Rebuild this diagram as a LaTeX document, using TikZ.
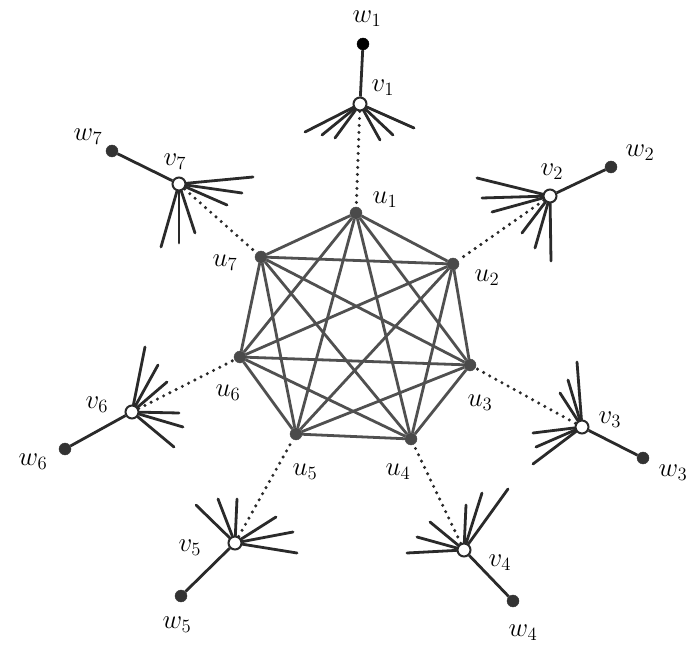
\documentclass[tikz,border=0pt]{standalone}
\definecolor{ucol}{HTML}{4A4A4A}
\definecolor{ecol}{HTML}{505050}
\definecolor{scol}{HTML}{2A2A2A}
\definecolor{wcol}{HTML}{333333}
\newcommand\lbl[1]{\scalebox{1.3}{$#1$}}
\begin{document}
\begin{tikzpicture}[x=1pt,y=-1pt,
  unode/.style={circle,fill=ucol,draw=ucol,inner sep=0pt,minimum size=12pt},
  vnode/.style={circle,fill=white,draw=scol,line width=2pt,inner sep=0pt,minimum size=13pt},
  wnode/.style={circle,fill=wcol,draw=wcol,inner sep=0pt,minimum size=12pt},
  kedge/.style={draw=ecol,line width=2.8pt},
  spoke/.style={draw=scol,line width=2.8pt,line cap=round},
  link/.style={draw=scol,line width=2.8pt},
  dots/.style={draw=scol,line width=3.4pt,line cap=round,dash pattern=on 0pt off 7pt},
  lab/.style={font=\huge,inner sep=0pt}]
\useasboundingbox (0,0) rectangle (689,647);
% u nodes
\node[unode] (u1) at (356,213) {};
\node[unode] (u2) at (453,264) {};
\node[unode] (u3) at (470,365) {};
\node[unode] (u4) at (411,439) {};
\node[unode] (u5) at (296,434) {};
\node[unode] (u6) at (240,357) {};
\node[unode] (u7) at (261,257) {};
% complete graph
\foreach \a/\b in {1/2,1/3,1/4,1/5,1/6,1/7,2/3,2/4,2/5,2/6,2/7,3/4,3/5,3/6,3/7,4/5,4/6,4/7,5/6,5/7,6/7}
  \draw[kedge] (u\a) -- (u\b);
% v and w nodes
\node[vnode] (v1) at (360,104) {};
\node[vnode] (v2) at (550,196) {};
\node[vnode] (v3) at (582,427) {};
\node[vnode] (v4) at (464,550) {};
\node[vnode] (v5) at (235,543) {};
\node[vnode] (v6) at (132,412) {};
\node[vnode] (v7) at (179,184) {};
\node[wnode,fill=black,draw=black] (w1) at (363,44) {};
\node[wnode] (w2) at (611,167) {};
\node[wnode] (w3) at (643,458) {};
\node[wnode] (w4) at (513,601) {};
\node[wnode] (w5) at (181,596) {};
\node[wnode] (w6) at (65,449) {};
\node[wnode] (w7) at (112,151) {};
\foreach \i in {1,...,7} {
  \draw[link] (v\i) -- (w\i);
  \draw[dots] (v\i) -- (u\i);
}
% spokes
\foreach \i/\pts in {
  1/{305/132,322/135,335/138,380/140,393/135,414/128},
  2/{477/178,482/198,492/212,522/233,535/248,551/261},
  3/{577/362,568/380,560/393,533/433,536/447,533/464},
  4/{407/553,417/537,430/522,466/505,482/493,508/489},
  5/{196/505,218/499,237/499,276/517,293/532,297/553},
  6/{145/347,158/365,167/382,179/413,183/427,174/447},
  7/{253/177,242/193,227/205,195/233,179/243,161/247}} {
  \foreach \px/\py [count=\k] in \pts {
    \coordinate (s\i-\k) at (\px,\py);
    \draw[spoke] (v\i) -- (s\i-\k);
  }
}
% labels
\node[lab] (lw1) at (367,19) {\lbl{w_1}};
\node[lab] (lv1) at (383,88) {\lbl{v_1}};
\node[lab] (lu1) at (385,200) {\lbl{u_1}};
\node[lab] (lw2) at (640,153) {\lbl{w_2}};
\node[lab] (lv2) at (552,172) {\lbl{v_2}};
\node[lab] (lu2) at (487,278) {\lbl{u_2}};
\node[lab] (lw3) at (673,473) {\lbl{w_3}};
\node[lab] (lv3) at (610,420) {\lbl{v_3}};
\node[lab] (lu3) at (480,403) {\lbl{u_3}};
\node[lab] (lw4) at (523,633) {\lbl{w_4}};
\node[lab] (lv4) at (500,563) {\lbl{v_4}};
\node[lab] (lu4) at (398,472) {\lbl{u_4}};
\node[lab] (lw5) at (177,625) {\lbl{w_5}};
\node[lab] (lv5) at (190,548) {\lbl{v_5}};
\node[lab] (lu5) at (305,472) {\lbl{u_5}};
\node[lab] (lw6) at (33,462) {\lbl{w_6}};
\node[lab] (lv6) at (97,405) {\lbl{v_6}};
\node[lab] (lu6) at (228,393) {\lbl{u_6}};
\node[lab] (lw7) at (88,137) {\lbl{w_7}};
\node[lab] (lv7) at (175,162) {\lbl{v_7}};
\node[lab] (lu7) at (225,263) {\lbl{u_7}};
\end{tikzpicture}
\end{document}
